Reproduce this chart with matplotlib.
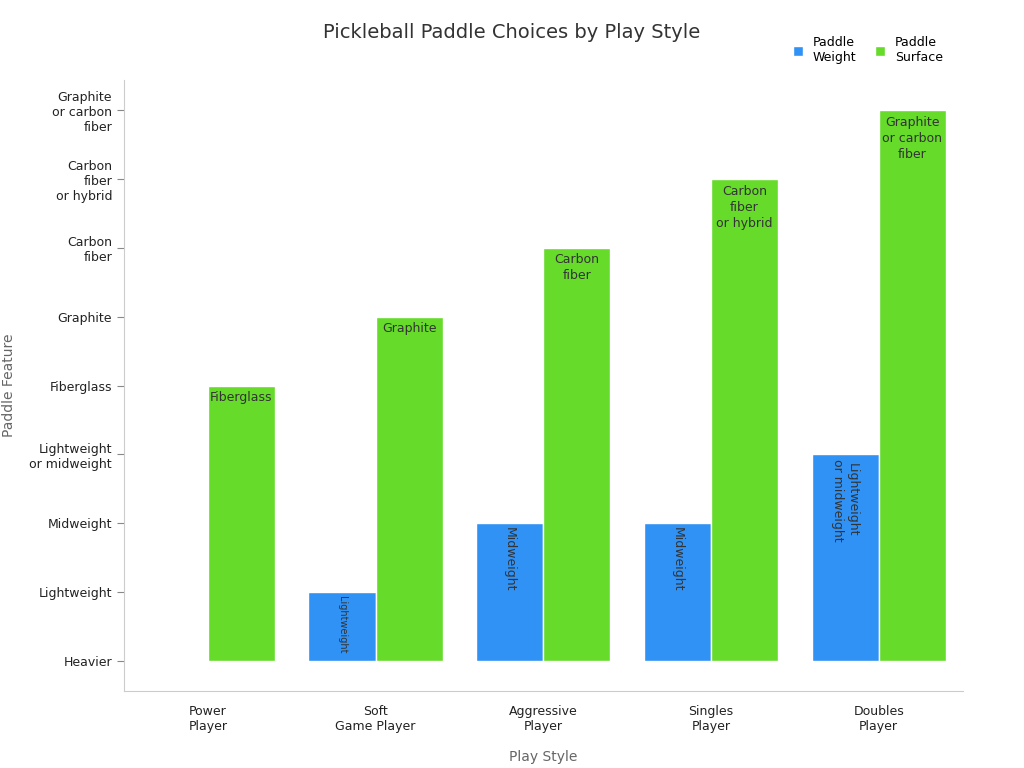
import matplotlib
matplotlib.use("Agg")
import matplotlib.pyplot as plt
import numpy as np

categories = ["Power\nPlayer", "Soft\nGame Player", "Aggressive\nPlayer", "Singles\nPlayer", "Doubles\nPlayer"]
levels = ["Heavier", "Lightweight", "Midweight", "Lightweight\nor midweight", "Fiberglass",
          "Graphite", "Carbon\nfiber", "Carbon\nfiber\nor hybrid", "Graphite\nor carbon\nfiber"]
weight_vals = [0, 1, 2, 2, 3]
surface_vals = [4, 5, 6, 7, 8]

blue = "#3092F5"
green = "#66DB2A"

fig = plt.figure(figsize=(10.24, 7.68), dpi=100)
ax = fig.add_axes([0.121, 0.100, 0.819, 0.796])
x = np.arange(len(categories))
w = 0.4
ax.bar(x - w/2, weight_vals, w, color=blue, edgecolor="white", linewidth=1, label="Paddle\nWeight")
ax.bar(x + w/2, surface_vals, w, color=green, edgecolor="white", linewidth=1, label="Paddle\nSurface")

for i, v in enumerate(weight_vals):
    if v > 0:
        fs = 7 if v == 1 else 9
        ax.text(x[i] - w/2, v - 0.06, levels[v].replace("\n", "\n"), rotation=-90,
                ha="center", va="top", fontsize=fs, color="#333333", linespacing=1.2)
for i, v in enumerate(surface_vals):
    ax.text(x[i] + w/2, v - 0.08, levels[v], ha="center", va="top", fontsize=9,
            color="#333333", linespacing=1.3)

ax.set_xlim(-0.5, 4.5)
ax.set_ylim(-0.44, 8.44)
ax.set_xticks(x)
ax.set_xticklabels(categories, fontsize=9, color="#222222")
ax.set_yticks(range(len(levels)))
ax.set_yticklabels(levels, fontsize=9, color="#222222")
ax.tick_params(axis="x", length=0, pad=10)
ax.tick_params(axis="y", length=5, color="#888888")
for s in ["top", "right"]:
    ax.spines[s].set_visible(False)
for s in ["left", "bottom"]:
    ax.spines[s].set_color("#cccccc")
ax.set_xlabel("Play Style", fontsize=10, color="#666666", labelpad=12)
ax.set_ylabel("Paddle Feature", fontsize=10, color="#666666", labelpad=10)
fig.suptitle("Pickleball Paddle Choices by Play Style", x=0.5, y=0.97, fontsize=14, color="#333333")
ax.legend(loc="upper right", bbox_to_anchor=(0.99, 1.09), ncol=2, frameon=False,
          fontsize=9, handlelength=0.8, handleheight=0.8, columnspacing=1.5)
fig.savefig("out.png", dpi=100)
